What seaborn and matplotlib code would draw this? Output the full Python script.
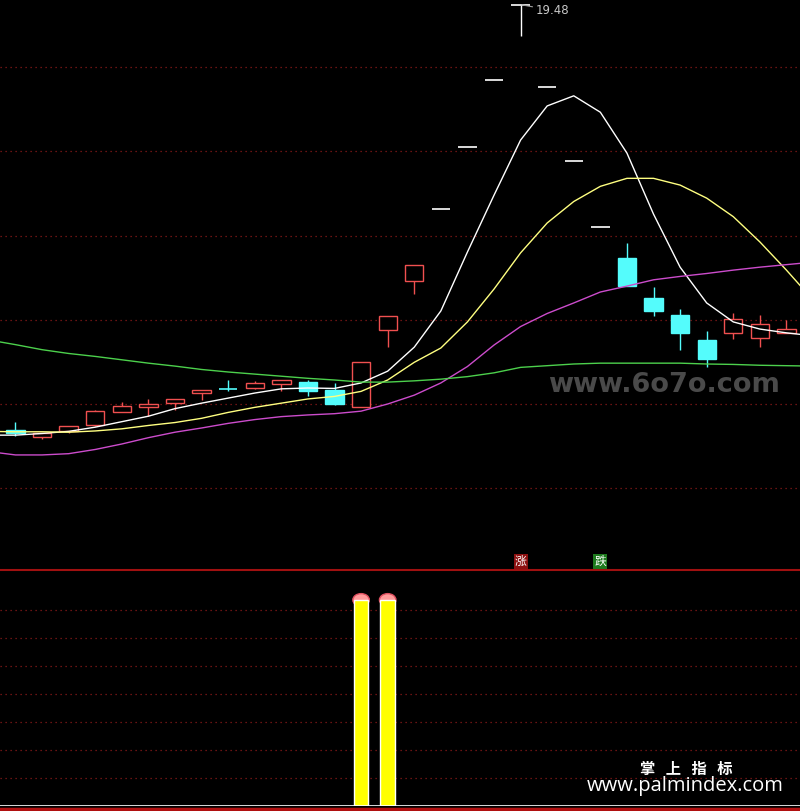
import matplotlib
matplotlib.use('Agg')
import matplotlib.pyplot as plt
import numpy as np
import pandas as pd
import seaborn as sns
from matplotlib.lines import Line2D
from matplotlib.patches import Ellipse, Rectangle

# daily candles (visible window, index 0..29)
open_ = [9.38, 9.22, 9.36, 9.50, 9.82, 9.92, 10.03, 10.27, 10.35, 10.39,
         10.47, 10.53, 10.33, 9.94, 11.75, 12.93, 14.63, 16.10, 17.70, 19.48,
         17.53, 15.77, 14.20, 13.47, 12.52, 12.11, 11.52, 11.69, 11.57, 11.69]
close = [9.31, 9.31, 9.48, 9.83, 9.95, 10.00, 10.11, 10.33, 10.35, 10.50,
         10.57, 10.32, 10.00, 10.99, 12.08, 13.29, 14.63, 16.10, 17.70, 19.48,
         17.53, 15.77, 14.20, 12.80, 12.21, 11.69, 11.07, 12.02, 11.90, 11.78]
high = [9.57, 9.31, 9.48, 9.86, 10.04, 10.13, 10.11, 10.33, 10.57, 10.55,
        10.57, 10.57, 10.51, 10.99, 12.08, 13.29, 14.63, 16.10, 17.70, 19.48,
        17.53, 15.77, 14.20, 13.82, 12.78, 12.26, 11.73, 12.16, 12.11, 12.00]
low = [9.24, 9.17, 9.32, 9.48, 9.82, 9.71, 9.86, 10.10, 10.31, 10.36,
       10.31, 10.20, 9.98, 9.94, 11.35, 12.61, 14.63, 16.10, 17.70, 18.74,
       17.53, 15.77, 14.20, 12.80, 12.09, 11.28, 10.88, 11.54, 11.35, 11.69]

# moving averages, one bar before and after the window (index -1..30)
ma_index = list(range(-1, 31))
ma5 = [9.26, 9.26, 9.30, 9.35, 9.45, 9.58, 9.71, 9.89, 10.02, 10.14, 10.26,
       10.36, 10.38, 10.37, 10.50, 10.78, 11.35, 12.21, 13.61, 14.96, 16.27,
       17.08, 17.32, 16.93, 15.96, 14.51, 13.25, 12.40, 11.95, 11.78, 11.69, 11.62]
ma10 = [9.35, 9.34, 9.34, 9.33, 9.36, 9.41, 9.49, 9.56, 9.66, 9.80, 9.92,
        10.02, 10.12, 10.18, 10.30, 10.57, 10.99, 11.33, 11.95, 12.73, 13.59,
        14.30, 14.81, 15.17, 15.36, 15.36, 15.20, 14.89, 14.45, 13.85, 13.18, 12.47]
ma20 = [8.87, 8.79, 8.79, 8.82, 8.92, 9.05, 9.20, 9.33, 9.43, 9.54, 9.63,
        9.70, 9.74, 9.77, 9.83, 10.00, 10.21, 10.50, 10.89, 11.40, 11.84,
        12.15, 12.40, 12.66, 12.80, 12.95, 13.03, 13.10, 13.18, 13.25, 13.31, 13.37]
ma60 = [11.52, 11.41, 11.29, 11.20, 11.13, 11.05, 10.97, 10.90, 10.82, 10.76,
        10.71, 10.66, 10.61, 10.57, 10.52, 10.52, 10.55, 10.59, 10.65, 10.74,
        10.87, 10.91, 10.95, 10.97, 10.97, 10.97, 10.97, 10.95, 10.94, 10.92, 10.91, 10.90]

# signals
rise_signal = [19]          # 涨
fall_signal = [22]          # 跌
bar_index = [13, 14]        # lower panel
bar_value = [7.36, 7.36]

price_grid = [8, 10, 12, 14, 16, 18]
lower_grid = [1, 2, 3, 4, 5, 6, 7]

UP = '#f05050'
DOWN = '#54fcfc'
FLAT = '#ffffff'
GRID = '#8b1a1a'


def draw_candles(ax, o, c, h, l, width=0.69):
    """Tongdaxin style candles: hollow red up, filled cyan down, white one-price bars."""
    for i, (op, cl, hi, lo) in enumerate(zip(o, c, h, l)):
        if cl > op:
            col = UP
        elif cl == op and cl == hi:
            col = FLAT
        else:
            col = DOWN
        ax.vlines(i, lo, hi, color=col, lw=1, zorder=2)
        if cl == op:
            ax.hlines(cl, i - width / 2, i + width / 2, color=col, lw=1.2, zorder=3)
        elif cl > op:
            ax.add_patch(Rectangle((i - width / 2, op), width, cl - op, facecolor='black',
                                   edgecolor=col, lw=1, zorder=3))
        else:
            ax.add_patch(Rectangle((i - width / 2, cl), width, op - cl, facecolor=col,
                                   edgecolor=col, lw=1, zorder=3))


sns.set_style('dark')
plt.rcParams['font.family'] = ['DejaVu Sans', 'Noto Sans CJK SC']

fig = plt.figure(figsize=(8, 8.11), dpi=100, facecolor='black')
ax = fig.add_axes([0, 1 - 570 / 811, 1, 570 / 811], facecolor='black')
ax2 = fig.add_axes([0, 5 / 811, 1, 236 / 811], facecolor='black')

xlim = (-0.583, 29.51)

# main panel
for g in price_grid:
    ax.axhline(g, color=GRID, lw=0.9, ls=(0, (1, 3)), zorder=0)

draw_candles(ax, open_, close, high, low)

df_ma = pd.DataFrame({'idx': ma_index, 'MA5': ma5, 'MA10': ma10, 'MA20': ma20, 'MA60': ma60})
ma_colors = {'MA5': '#ffffff', 'MA10': '#ffff80', 'MA20': '#cc4ccc', 'MA60': '#4cd04c'}
for name, col in ma_colors.items():
    sns.lineplot(data=df_ma, x='idx', y=name, color=col, lw=1, ax=ax, zorder=4)

i_max = int(np.argmax(high))
ax.annotate(f'{high[i_max]:.2f}', xy=(i_max + 0.05, high[i_max]), xytext=(10, -4),
            textcoords='offset points', color='#c8c8c8', fontsize=8.5, ha='left', va='center',
            arrowprops=dict(arrowstyle='-', color='#a0a0a0', lw=0.8, shrinkA=0, shrinkB=0))

for i in rise_signal:
    ax.text(i, 6.1, '涨', color='white', fontsize=8.5, ha='center', va='bottom',
            family=['Noto Sans CJK SC'],
            bbox=dict(boxstyle='square,pad=0.1', fc='#8c1010', ec='none'))
for i in fall_signal:
    ax.text(i, 6.1, '跌', color='white', fontsize=8.5, ha='center', va='bottom',
            family=['Noto Sans CJK SC'],
            bbox=dict(boxstyle='square,pad=0.1', fc='#1e7a1e', ec='none'))

ax.text(0.685, 0.325, 'www.6o7o.com', transform=ax.transAxes, color='#4a4a4a',
        fontsize=19.5, fontweight='bold', ha='left', va='center', zorder=1)

ax.set_xlim(*xlim)
ax.set_ylim(6.057, 19.596)
ax.set_xlabel('')
ax.set_ylabel('')
ax.set_xticks([])
ax.set_yticks([])
for side in ax.spines:
    ax.spines[side].set_visible(False)

# lower panel
for g in lower_grid:
    ax2.axhline(g, color=GRID, lw=0.9, ls=(0, (1, 3)), zorder=0)
ax2.bar(bar_index, bar_value, width=0.55, color='#ffff00', zorder=3)
for i, v in zip(bar_index, bar_value):
    ax2.add_patch(Ellipse((i, v), 0.62, 0.45, facecolor='#ff9a9a', edgecolor='#e05060',
                          lw=1, zorder=2))
ax2.axhline(0, color='white', lw=1.2, zorder=4)
ax2.set_xlim(*xlim)
ax2.set_ylim(0, 236 / 28)
ax2.set_xticks([])
ax2.set_yticks([])
for side in ax2.spines:
    ax2.spines[side].set_visible(False)
ax2.spines['top'].set_visible(True)
ax2.spines['top'].set_color('#a01010')
ax2.spines['top'].set_linewidth(1.5)

fig.add_artist(Line2D([0, 1], [2 / 811, 2 / 811], color='#b01010', lw=2.5))

fig.text(0.858, 0.0518, '掌   上   指   标', color='white', fontsize=11, fontweight='bold',
         ha='center', va='center', family=['Noto Sans CJK SC'])
fig.text(0.856, 0.0305, 'www.palmindex.com', color='white', fontsize=14.5,
         ha='center', va='center', family=['Open Sans', 'DejaVu Sans'])

fig.savefig('out.png', dpi=100, facecolor='black')
